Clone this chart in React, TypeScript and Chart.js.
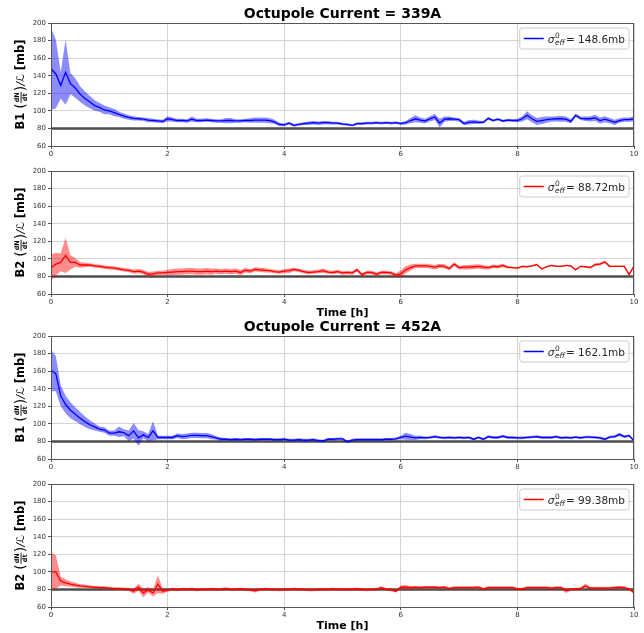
import React, { useEffect, useRef } from "react";
import { Chart, registerables } from "chart.js";
Chart.register(...registerables);

// time bins: 5-minute steps from 0 to 10 h
const TIMES: number[] = Array.from({ length: 121 }, (_, i) => i / 12);
const X_TICKS = [0, 2, 4, 6, 8, 10];
const Y_TICKS = [60, 80, 100, 120, 140, 160, 180, 200];
const REF_LEVEL = 80;

const B1_339_MEAN = [
  148, 142, 129, 144, 131, 126, 119, 114, 110, 106, 104, 101,
  100, 98, 96, 94, 92.5, 91.5, 91, 90.5, 89.5, 89, 88.5, 88,
  91, 90, 89, 89, 88.5, 90.5, 89, 89, 89.5, 89, 88.5, 88.5,
  89, 89, 88.5, 88.5, 89, 89, 89.5, 89.5, 89.5, 89, 87.5, 84.5,
  84, 86, 83.5, 84.5, 85.5, 86, 86.5, 86, 86.5, 86.5, 86, 86,
  85, 84.5, 83.5, 85.5, 85.5, 86, 86, 86.5, 86, 86.5, 86, 86.5,
  85.5, 86.5, 89, 91, 89.5, 88.5, 91, 93, 86, 90.5, 91, 90.5,
  90, 85.5, 87, 87.5, 87, 87, 91.5, 89, 90.5, 88.5, 89.5, 89,
  89, 91, 95, 91, 88, 89, 90, 90.5, 91, 91, 90.5, 88,
  95, 91.5, 91, 91, 92, 89, 90.5, 89, 87, 89, 90, 90, 91,
];
const B1_339_ERR = [
  47, 39, 15, 37, 12, 11, 9, 8, 7, 6, 5, 5,
  4, 4, 3, 3, 2.5, 2.5, 2, 2, 2.5, 2, 2, 2,
  3, 2.5, 2, 2, 2, 3, 2, 2, 2, 2, 2, 2,
  3, 3, 2, 2, 2, 2.5, 3, 3, 3, 3, 2.5, 2,
  1.5, 1.5, 1.5, 1.5, 1.5, 2, 2, 2, 2, 2, 1.5, 1.5,
  1.5, 1.5, 1, 1.5, 1.5, 1.5, 1.5, 1.5, 1.5, 1.5, 1.5, 1.5,
  1.5, 2, 3, 4, 3, 2.5, 3, 3.5, 5, 3, 2.5, 2,
  2, 2, 2.5, 2.5, 2, 1.5, 1.5, 1.5, 1.5, 1.5, 1.5, 1.5,
  2, 3, 4.5, 4, 4, 4, 3.5, 3, 3, 3.5, 3, 2.5,
  2, 2, 2.5, 3, 3.5, 3.5, 3.5, 3, 3, 2.5, 2.5, 2.5, 3,
];

const B2_339_MEAN = [
  90, 94, 96, 104, 96, 96, 93, 93, 93, 92, 91.5, 90.5,
  90, 89.5, 88.5, 87.5, 87, 85.5, 86, 85, 82.5, 83, 84, 84,
  84.5, 85, 85.5, 85.5, 86, 86, 85.5, 85.5, 86, 85.5, 86, 85.5,
  86, 85.5, 86, 84.5, 87, 86, 88, 87.5, 87, 86.5, 85.5, 85,
  86, 86.5, 88, 87, 85.5, 84.5, 85, 85.5, 86.5, 85, 84.5, 85.5,
  84, 84.5, 84, 87.5, 82, 84.5, 84.5, 82.5, 84.5, 84.5, 84, 81.5,
  83, 87.5, 90, 92, 92, 92, 91.5, 90.5, 92, 91.5, 89, 94,
  90, 90.5, 90.5, 91, 91.5, 90.5, 90, 91.5, 91, 92.5, 90.5, 90,
  89.5, 91.5, 91, 92, 93.5, 88.5, 91, 92.5, 91.5, 91.5, 92.5, 92,
  87.5, 91.5, 91, 90, 93.5, 94, 96.5, 91.5, 91.5, 91.5, 91.5, 82, 92,
];
const B2_339_ERR = [
  15, 13, 10, 20, 8, 5, 3, 2.5, 2, 2, 2, 2,
  2, 2, 2, 2, 2, 2.5, 2.5, 2.5, 2.5, 2.5, 2.5, 2.5,
  3, 3.5, 3.5, 3.5, 3.5, 3.5, 3.5, 3.5, 3.5, 3.5, 3, 3,
  3, 3, 3, 3, 2.5, 2.5, 2.5, 2.5, 2.5, 2, 2, 2,
  2.5, 2.5, 2, 2, 2, 2, 2, 2, 2.5, 2, 2, 2,
  2, 2, 2, 2, 2, 2, 2, 2, 2, 2, 2, 2,
  4, 4, 3.5, 2.5, 2.5, 2.5, 2.5, 2.5, 2.5, 2.5, 2, 2,
  2, 2.5, 2.5, 2.5, 2.5, 2.5, 2, 2, 2, 2, 1.5, 1,
  1, 0.8, 0.8, 0.8, 0.8, 0.8, 0.8, 0.8, 0.8, 0.8, 0.8, 0.8,
  0.8, 0.8, 0.8, 1, 1.5, 1.5, 1.5, 1, 0.8, 0.8, 0.8, 1.5, 1,
];

const B1_452_MEAN = [
  161, 157, 132, 122, 115.5, 111, 106.5, 102.5, 99, 96.5, 94, 93,
  89.5, 89.5, 91, 90, 86.5, 92, 84, 87.5, 84.5, 92, 84.5, 84.5,
  84.5, 84.5, 86.5, 85.5, 86, 87, 87, 86.5, 86.5, 85.5, 84, 82.5,
  82.5, 82, 82.5, 82, 82.5, 82.5, 82, 82.5, 82.5, 82.5, 82, 82,
  82.5, 81.5, 81.5, 82, 81.5, 81.5, 82, 81, 80.5, 82.5, 82.5, 83,
  83, 79.5, 81.5, 82, 82, 82, 82, 82, 82, 82.5, 82.5, 83,
  84.5, 86, 85, 84, 84.5, 84, 84.5, 85.5, 84.5, 84, 84.5, 84,
  84.5, 84, 84.5, 82.5, 84.5, 82.5, 85.5, 84.5, 84.5, 86, 84.5, 84.5,
  84, 84, 84.5, 85, 85.5, 84.5, 84.5, 84.5, 85.5, 84, 84.5, 84,
  85, 84, 85, 85, 84.5, 84, 82.5, 85, 85.5, 88, 85.5, 86.5, 81,
];
const B1_452_ERR = [
  24, 20, 12, 10, 9, 8, 7, 6, 5, 4, 3, 3,
  3, 3, 6, 4, 6, 9, 9, 4, 4, 11, 2, 2,
  2, 2, 2.5, 3, 3, 3, 3, 3, 3, 3, 2, 2,
  1.5, 1.5, 1.5, 1.5, 1.5, 1.5, 1.5, 1.5, 1.5, 1.5, 1.5, 1.5,
  1.5, 1.5, 1.5, 1.5, 1.5, 1.5, 1.5, 1.5, 1.5, 1.5, 1.5, 1.5,
  1.5, 1.5, 1.5, 1.5, 1.5, 1.5, 1.5, 1.5, 1.5, 1.5, 1.5, 1.5,
  2, 4, 3.5, 2.5, 2, 1.5, 1.5, 1.5, 1.5, 1.5, 1.5, 1.5,
  1.5, 1.5, 1.5, 1.5, 1.5, 1.5, 1.5, 1.5, 1.5, 1.5, 1.5, 1.5,
  1.5, 1.5, 1.5, 1.5, 1.5, 1.5, 1.5, 1.5, 1.5, 1.5, 1.5, 1.5,
  1.5, 1.5, 1.5, 1.5, 1.5, 1.5, 1.5, 1.5, 1.5, 2, 1.5, 1.5, 1.5,
];

const B2_452_MEAN = [
  100, 100, 89.5, 87.5, 86, 85, 84, 83.5, 83, 82.5, 82, 82,
  81.5, 81, 81, 80.5, 80, 78, 82.5, 76, 79.5, 76, 86, 78,
  79, 80.5, 79.5, 80.5, 80, 80.5, 79.5, 80, 80, 80.5, 80, 80,
  81, 80, 80, 80.5, 80, 79.5, 78.5, 80, 80.5, 80, 80, 79.5,
  80, 80, 80.5, 80, 80, 79.5, 79.5, 80, 80, 80, 80.5, 80,
  80, 80, 80, 80.5, 80, 79.5, 80, 80, 82, 80, 79.5, 78,
  82.5, 82.5, 82, 82.5, 82, 82.5, 82.5, 82.5, 82, 82.5, 81, 82,
  82, 82, 82, 82, 82.5, 80.5, 82, 82, 82, 82, 82, 82,
  80.5, 80.5, 82, 82, 82, 82, 82, 81.5, 82, 82, 78.5, 80,
  80.5, 81, 84, 81.5, 81.5, 81.5, 81.5, 81.5, 82, 82.5, 82, 80.5, 76.5,
];
const B2_452_ERR = [
  22, 19, 5, 4, 3, 2.5, 2, 2, 1.5, 1.5, 1.5, 1.5,
  1.5, 1.5, 1.5, 1.5, 1.5, 3, 4, 5, 3, 4, 10, 3,
  1.5, 1.5, 1.5, 1.5, 1.5, 1.5, 1.5, 1.5, 1.5, 1.5, 1.5, 1.5,
  1.5, 1.5, 1.5, 1.5, 1.5, 1.5, 2, 1.5, 1.5, 1.5, 1.5, 1.5,
  1.5, 1.5, 1.5, 1.5, 1.5, 1.5, 1.5, 1.5, 1.5, 1.5, 1.5, 1.5,
  1.5, 1.5, 1.5, 1.5, 1.5, 1.5, 1.5, 1.5, 1.5, 1.5, 1.5, 1.5,
  2, 2.5, 2, 1.5, 1.5, 1.5, 1.5, 1.5, 1.5, 1.5, 1.5, 1.5,
  1.5, 1.5, 1.5, 1.5, 1.5, 1.5, 1.5, 1.5, 1.5, 1.5, 1.5, 1.5,
  1.5, 1.5, 1.5, 1.5, 1.5, 1.5, 1.5, 1.5, 1.5, 1.5, 2.5, 1.5,
  1.5, 1.5, 2.5, 1.5, 1.5, 1.5, 1.5, 1.5, 1.5, 1.5, 1.5, 1.5, 2,
];

const FONT = "'DejaVu Sans', sans-serif";

type PanelProps = {
  top: number;
  height: number;
  mean: number[];
  err: number[];
  blue: boolean;
  beam: string;
  sigma: string;
  title?: string;
  xlabel?: string;
};

function Panel(p: PanelProps) {
  const ref = useRef<HTMLCanvasElement>(null);
  useEffect(() => {
    const lineColor = p.blue ? "#0000ff" : "#ff0000";
    const bandColor = p.blue ? "rgba(0,0,255,0.45)" : "rgba(255,0,0,0.45)";
    const lo = TIMES.map((t, i) => ({ x: t, y: p.mean[i] - p.err[i] }));
    const hi = TIMES.map((t, i) => ({ x: t, y: p.mean[i] + p.err[i] }));
    const mid = TIMES.map((t, i) => ({ x: t, y: p.mean[i] }));

    const decor = {
      id: "decor",
      afterDatasetsDraw(chart: any) {
        const ctx = chart.ctx as CanvasRenderingContext2D;
        const ca = chart.chartArea;
        ctx.save();
        ctx.strokeStyle = "#555";
        ctx.lineWidth = 1;
        ctx.strokeRect(Math.round(ca.left) + 0.5, Math.round(ca.top) + 0.5, Math.round(ca.right - ca.left) - 1, Math.round(ca.bottom - ca.top));
        ctx.restore();
      },
      afterDraw(chart: any) {
        const ctx = chart.ctx as CanvasRenderingContext2D;
        const ca = chart.chartArea;
        const cx = (ca.left + ca.right) / 2;
        ctx.save();
        ctx.fillStyle = "#000";
        if (p.title) {
          ctx.font = `bold 14px ${FONT}`;
          ctx.textAlign = "center";
          ctx.textBaseline = "middle";
          ctx.fillText(p.title, cx, ca.top - 8.5);
        }
        if (p.xlabel) {
          ctx.font = `bold 11px ${FONT}`;
          ctx.textAlign = "center";
          ctx.textBaseline = "middle";
          ctx.fillText(p.xlabel, cx, ca.bottom + 19);
        }
        // y label
        ctx.save();
        ctx.translate(21, (ca.top + ca.bottom) / 2);
        ctx.rotate(-Math.PI / 2);
        ctx.textBaseline = "middle";
        ctx.textAlign = "left";
        const fB = `bold 11.5px ${FONT}`;
        const fP = `14px ${FONT}`;
        const fF = `bold 6.5px ${FONT}`;
        const fM = `italic 11px ${FONT}`;
        ctx.font = fB; const wB = ctx.measureText(p.beam).width;
        ctx.font = fP; const wPar = ctx.measureText("(").width;
        ctx.font = fF; const wFr = Math.max(ctx.measureText("dN").width, ctx.measureText("dt").width) + 2;
        ctx.font = fM; const wSl = ctx.measureText("/ℒ").width;
        ctx.font = fB; const wMb = ctx.measureText("[mb]").width;
        const gap = 4;
        const total = wB + gap + wPar + wFr + wPar + wSl + gap + wMb;
        let x = -total / 2;
        ctx.font = fB; ctx.fillText(p.beam, x, 0); x += wB + gap;
        ctx.font = fP; ctx.fillText("(", x, 0); x += wPar;
        ctx.font = fF; ctx.textAlign = "center";
        ctx.fillText("dN", x + wFr / 2, -4);
        ctx.fillText("dt", x + wFr / 2, 4.5);
        ctx.fillRect(x + 0.5, -0.4, wFr - 1, 0.9);
        ctx.textAlign = "left"; x += wFr;
        ctx.font = fP; ctx.fillText(")", x, 0); x += wPar;
        ctx.font = fM; ctx.fillText("/ℒ", x, 0.5); x += wSl + gap;
        ctx.font = fB; ctx.fillText("[mb]", x, 0);
        ctx.restore();

        // legend
        const fs = 10.5;
        ctx.font = `${fs}px ${FONT}`;
        const eqText = "= " + p.sigma;
        const wEq = ctx.measureText(eqText).width;
        ctx.font = `italic ${fs}px ${FONT}`;
        const wSig = ctx.measureText("σ").width;
        ctx.font = `italic 7.5px ${FONT}`;
        const wSub = ctx.measureText("eff").width;
        const textW = wSig + 0.5 + wSub + 1 + wEq;
        const bw = 28 + textW + 4;
        const bh = 21;
        const bx = ca.right - 5 - bw;
        const by = ca.top + 5;
        ctx.beginPath();
        const r = 2.5;
        ctx.moveTo(bx + r, by);
        ctx.lineTo(bx + bw - r, by);
        ctx.quadraticCurveTo(bx + bw, by, bx + bw, by + r);
        ctx.lineTo(bx + bw, by + bh - r);
        ctx.quadraticCurveTo(bx + bw, by + bh, bx + bw - r, by + bh);
        ctx.lineTo(bx + r, by + bh);
        ctx.quadraticCurveTo(bx, by + bh, bx, by + bh - r);
        ctx.lineTo(bx, by + r);
        ctx.quadraticCurveTo(bx, by, bx + r, by);
        ctx.closePath();
        ctx.fillStyle = "rgba(255,255,255,0.8)";
        ctx.fill();
        ctx.strokeStyle = "#cccccc";
        ctx.lineWidth = 1;
        ctx.stroke();
        const ly = by + bh / 2;
        ctx.strokeStyle = lineColor;
        ctx.lineWidth = 1.5;
        ctx.beginPath();
        ctx.moveTo(bx + 4, ly);
        ctx.lineTo(bx + 24, ly);
        ctx.stroke();
        ctx.fillStyle = "#262626";
        ctx.textAlign = "left";
        ctx.textBaseline = "alphabetic";
        let tx = bx + 28;
        const base = ly + 4;
        ctx.font = `italic ${fs}px ${FONT}`;
        ctx.fillText("σ", tx, base);
        tx += wSig + 0.5;
        ctx.font = `7.5px ${FONT}`;
        ctx.fillText("0", tx, base - 4.5);
        ctx.font = `italic 7.5px ${FONT}`;
        ctx.fillText("eff", tx, base + 2.5);
        tx += wSub + 1;
        ctx.font = `${fs}px ${FONT}`;
        ctx.fillText(eqText, tx, base);
        ctx.restore();
      },
    };

    const tickFont = { size: 7, family: FONT };
    const chart = new Chart(ref.current as HTMLCanvasElement, {
      type: "line",
      data: {
        datasets: [
          {
            label: "ref",
            data: [{ x: 0, y: REF_LEVEL }, { x: 10, y: REF_LEVEL }],
            borderColor: "#4d4d4d",
            borderWidth: 2.5,
            pointRadius: 0,
            fill: false,
            order: 4,
          },
          {
            label: "lo",
            data: lo,
            borderColor: "rgba(0,0,0,0)",
            borderWidth: 0,
            pointRadius: 0,
            fill: false,
            order: 3,
          },
          {
            label: "hi",
            data: hi,
            borderColor: "rgba(0,0,0,0)",
            borderWidth: 0,
            pointRadius: 0,
            fill: "-1",
            backgroundColor: bandColor,
            order: 2,
          },
          {
            label: "mean",
            data: mid,
            borderColor: lineColor,
            borderWidth: 1.3,
            pointRadius: 0,
            fill: false,
            order: 1,
          },
        ],
      } as any,
      options: {
        responsive: false,
        animation: false,
        events: [],
        layout: { padding: { left: 21, right: 10, top: 23, bottom: p.height - 23 - 123 - 12 } },
        plugins: { legend: { display: false }, tooltip: { enabled: false }, title: { display: false } },
        scales: {
          x: {
            type: "linear",
            min: 0,
            max: 10,
            afterBuildTicks: (s: any) => { s.ticks = X_TICKS.map((v) => ({ value: v })); },
            ticks: { font: tickFont, color: "#333", padding: 1, maxRotation: 0, autoSkip: false },
            grid: { color: "#d4d4d4", lineWidth: 1, tickLength: 3, tickColor: "#555" },
            border: { display: false },
            afterFit: (s: any) => { s.height = 12; },
          },
          y: {
            type: "linear",
            min: 60,
            max: 200,
            afterBuildTicks: (s: any) => { s.ticks = Y_TICKS.map((v) => ({ value: v })); },
            ticks: { font: tickFont, color: "#333", padding: 2, autoSkip: false },
            grid: { color: "#d4d4d4", lineWidth: 1, tickLength: 3, tickColor: "#555" },
            border: { display: false },
            afterFit: (s: any) => { s.width = 30; },
          },
        },
      } as any,
      plugins: [decor],
    });
    return () => chart.destroy();
  }, []);
  return (
    <canvas
      ref={ref}
      width={644}
      height={p.height}
      style={{ position: "absolute", left: 0, top: p.top, width: 644, height: p.height }}
    />
  );
}

export default function App() {
  return (
    <div style={{ position: "fixed", left: 0, top: 0, width: 644, height: 633, overflow: "hidden", background: "#fff" }}>
      <Panel top={0} height={176} mean={B1_339_MEAN} err={B1_339_ERR} blue beam="B1" sigma="148.6mb" title="Octupole Current = 339A" />
      <Panel top={148} height={176} mean={B2_339_MEAN} err={B2_339_ERR} blue={false} beam="B2" sigma="88.72mb" xlabel="Time [h]" />
      <Panel top={313} height={176} mean={B1_452_MEAN} err={B1_452_ERR} blue beam="B1" sigma="162.1mb" title="Octupole Current = 452A" />
      <Panel top={461} height={172} mean={B2_452_MEAN} err={B2_452_ERR} blue={false} beam="B2" sigma="99.38mb" xlabel="Time [h]" />
    </div>
  );
}
